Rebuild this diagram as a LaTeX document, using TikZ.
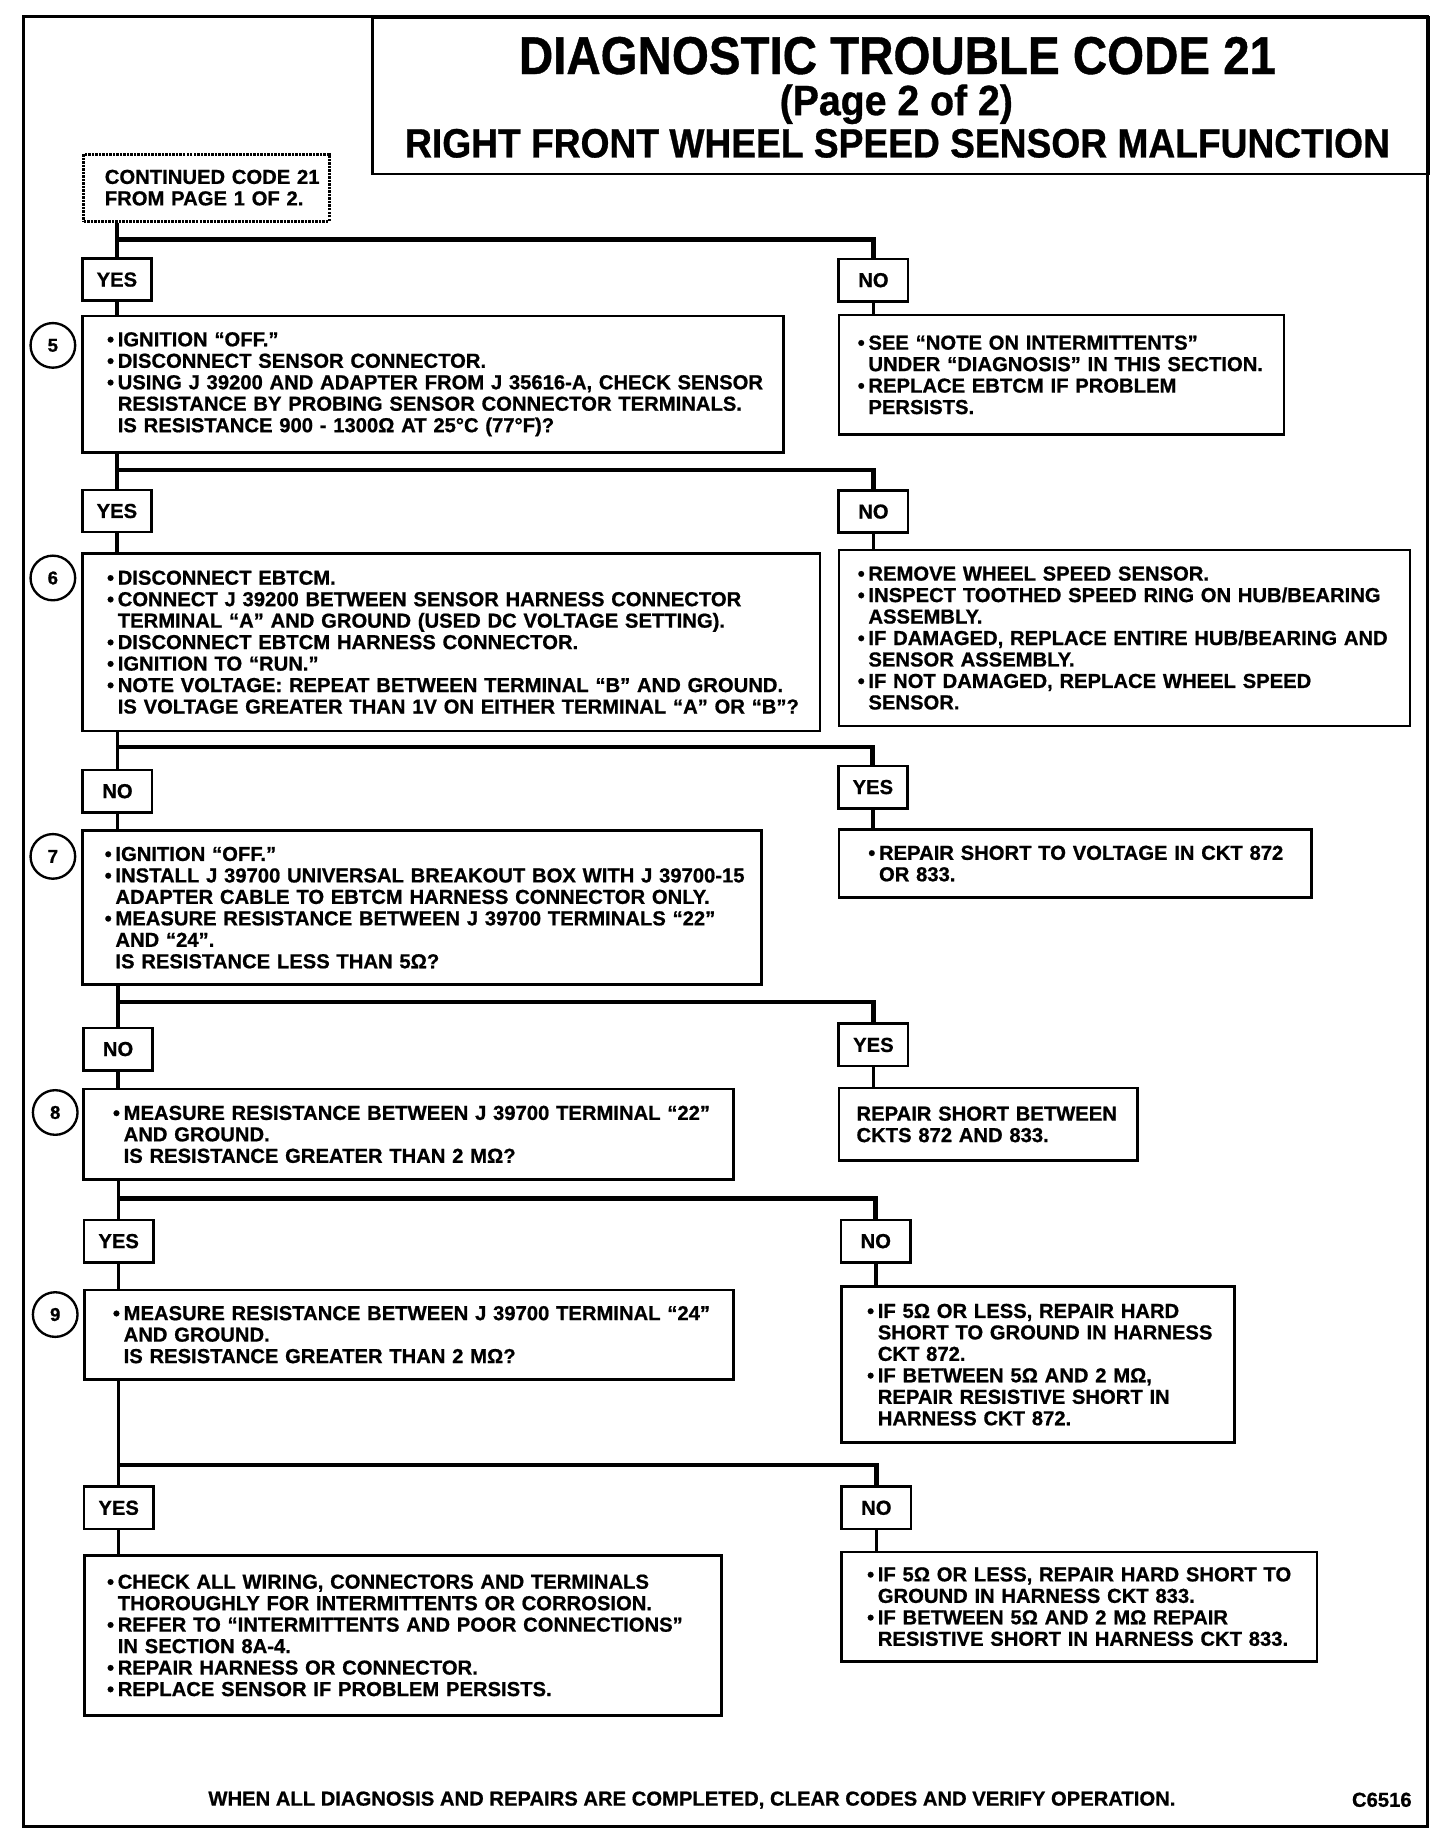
\documentclass[tikz,border=0pt]{standalone}
\usepackage{fontspec}
\setmainfont{Liberation Sans}[BoldFeatures={FakeBold=0.8}]
\usetikzlibrary{positioning}
\newcommand\bodyfont{\fontsize{9.8pt}{10.4pt}\selectfont\bfseries}
\newcommand\bul{\hangindent=5.2pt\hangafter=1\makebox[5.2pt][l]{\textbullet}}
\newcommand\nl{\newline}
\tikzset{
  stepbox/.style n args={3}{draw, line width=0.45mm, anchor=north west,
    inner xsep={#3*0.2mm}, inner ysep=0pt, text width={(#1-2*#3)*0.2mm},
    minimum height={#2*0.2mm}, align=left, font=\bodyfont,
    execute at begin node={\rightskip=-6mm plus 1fil\relax}},
  answer/.style={draw, line width=0.45mm, minimum width=11.8mm,
    minimum height=7.2mm, inner sep=0pt, font=\bodyfont},
  stepnum/.style={circle, draw, line width=0.4mm, minimum size=7.6mm,
    inner sep=0pt, font=\fontsize{9pt}{9pt}\selectfont\bfseries},
  heading/.style={anchor=base, font=\fontsize{#1}{#1}\selectfont\bfseries},
  trunk/.style={line width=0.6mm},
  bar/.style={line width=0.8mm}
}
\begin{document}
\begin{tikzpicture}[x=0.2mm,y=-0.2mm]
  \useasboundingbox (0,0) rectangle (1239,1568);
  % frame and heading
  \draw[line width=0.45mm] (20,14) rectangle (1215,1555);
  \node[draw, line width=0.45mm, anchor=north west, minimum width=179.8mm,
    minimum height=26.6mm, inner sep=0pt] (titlebox) at (316,14) {};
  \node[heading=23pt] (title) at (764,63) {\scalebox{1}[1.12]{DIAGNOSTIC TROUBLE CODE 21}};
  \node[heading=19pt] (page) at (763,98) {\scalebox{1}[1.08]{(Page 2 of 2)}};
  \node[heading=18pt] (subtitle) at (764,134) {\scalebox{1}[1.1]{RIGHT FRONT WHEEL SPEED SENSOR MALFUNCTION}};

  \node[stepbox={209}{57}{18}, line width=0.5mm, dash pattern=on 1.2pt off 0.5pt] (cont) at (70,130)
    {CONTINUED CODE 21\nl FROM PAGE 1 OF 2.};

  % step 5
  \node[answer] (yes1) at (99.5,238) {YES};
  \node[answer] (no1) at (743.5,238.5) {NO};
  \node[stepnum] (c5) at (45,294) {5};
  \node[stepbox={597}{116}{21}] (q5) at (69,268)
    {\bul IGNITION “OFF.”\par
     \bul DISCONNECT SENSOR CONNECTOR.\par
     \bul USING J 39200 AND ADAPTER FROM J 35616-A, CHECK SENSOR\nl
     RESISTANCE BY PROBING SENSOR CONNECTOR TERMINALS.\nl
     IS RESISTANCE 900 - 1300Ω AT 25°C (77°F)?\par};
  \node[stepbox={379}{102}{16}] (a5) at (713,267)
    {\bul SEE “NOTE ON INTERMITTENTS”\nl
     UNDER “DIAGNOSIS” IN THIS SECTION.\par
     \bul REPLACE EBTCM IF PROBLEM\nl
     PERSISTS.\par};

  % step 6
  \node[answer] (yes2) at (99.5,435) {YES};
  \node[answer] (no2) at (743.5,435.5) {NO};
  \node[stepnum] (c6) at (45,492) {6};
  \node[stepbox={628}{151}{21}] (q6) at (69,470)
    {\bul DISCONNECT EBTCM.\par
     \bul CONNECT J 39200 BETWEEN SENSOR HARNESS CONNECTOR\nl
     TERMINAL “A” AND GROUND (USED DC VOLTAGE SETTING).\par
     \bul DISCONNECT EBTCM HARNESS CONNECTOR.\par
     \bul IGNITION TO “RUN.”\par
     \bul NOTE VOLTAGE: REPEAT BETWEEN TERMINAL “B” AND GROUND.\nl
     IS VOLTAGE GREATER THAN 1V ON EITHER TERMINAL “A” OR “B”?\par};
  \node[stepbox={486}{150}{16}] (a6) at (713,467)
    {\bul REMOVE WHEEL SPEED SENSOR.\par
     \bul INSPECT TOOTHED SPEED RING ON HUB/BEARING\nl
     ASSEMBLY.\par
     \bul IF DAMAGED, REPLACE ENTIRE HUB/BEARING AND\nl
     SENSOR ASSEMBLY.\par
     \bul IF NOT DAMAGED, REPLACE WHEEL SPEED\nl
     SENSOR.\par};

  % step 7
  \node[answer] (no3) at (100,673.5) {NO};
  \node[answer] (yes3) at (743,670) {YES};
  \node[stepnum] (c7) at (45,729) {7};
  \node[stepbox={578}{131}{19}] (q7) at (69,706)
    {\bul IGNITION “OFF.”\par
     \bul INSTALL J 39700 UNIVERSAL BREAKOUT BOX WITH J 39700-15\nl
     ADAPTER CABLE TO EBTCM HARNESS CONNECTOR ONLY.\par
     \bul MEASURE RESISTANCE BETWEEN J 39700 TERMINALS “22”\nl
     AND “24”.\nl
     IS RESISTANCE LESS THAN 5Ω?\par};
  \node[stepbox={402}{58}{25}] (a7) at (713,705)
    {\bul REPAIR SHORT TO VOLTAGE IN CKT 872\nl
     OR 833.\par};

  % step 8
  \node[answer] (no4) at (100.5,893) {NO};
  \node[answer] (yes4) at (743.5,889.5) {YES};
  \node[stepnum] (c8) at (47,947) {8};
  \node[stepbox={553}{77}{25}] (q8) at (70,926)
    {\bul MEASURE RESISTANCE BETWEEN J 39700 TERMINAL “22”\nl
     AND GROUND.\nl
     IS RESISTANCE GREATER THAN 2 MΩ?\par};
  \node[stepbox={254}{62}{15}] (a8) at (713,925)
    {REPAIR SHORT BETWEEN\nl
     CKTS 872 AND 833.};

  % step 9
  \node[answer] (yes5) at (101,1056.5) {YES};
  \node[answer] (no5) at (745.5,1056.5) {NO};
  \node[stepnum] (c9) at (47,1119) {9};
  \node[stepbox={552}{76}{24}] (q9) at (71,1097)
    {\bul MEASURE RESISTANCE BETWEEN J 39700 TERMINAL “24”\nl
     AND GROUND.\nl
     IS RESISTANCE GREATER THAN 2 MΩ?\par};
  \node[stepbox={335}{133}{22}] (a9) at (715,1094)
    {\bul IF 5Ω OR LESS, REPAIR HARD\nl
     SHORT TO GROUND IN HARNESS\nl
     CKT 872.\par
     \bul IF BETWEEN 5Ω AND 2 MΩ,\nl
     REPAIR RESISTIVE SHORT IN\nl
     HARNESS CKT 872.\par};

  % last answers
  \node[answer] (yes6) at (101,1283.5) {YES};
  \node[answer] (no6) at (746,1283.5) {NO};
  \node[stepbox={542}{136}{19}] (r9) at (71,1323)
    {\bul CHECK ALL WIRING, CONNECTORS AND TERMINALS\nl
     THOROUGHLY FOR INTERMITTENTS OR CORROSION.\par
     \bul REFER TO “INTERMITTENTS AND POOR CONNECTIONS”\nl
     IN SECTION 8A-4.\par
     \bul REPAIR HARNESS OR CONNECTOR.\par
     \bul REPLACE SENSOR IF PROBLEM PERSISTS.\par};
  \node[stepbox={405}{93}{22}] (n9) at (715,1320)
    {\bul IF 5Ω OR LESS, REPAIR HARD SHORT TO\nl
     GROUND IN HARNESS CKT 833.\par
     \bul IF BETWEEN 5Ω AND 2 MΩ REPAIR\nl
     RESISTIVE SHORT IN HARNESS CKT 833.\par};

  \node[anchor=base, font=\bodyfont] (note) at (589,1537)
    {WHEN ALL DIAGNOSIS AND REPAIRS ARE COMPLETED, CLEAR CODES AND VERIFY OPERATION.};
  \node[anchor=base east, font=\bodyfont, inner sep=0pt] (figno) at (1202,1538) {C6516};

  % forks
  \coordinate (f1) at (99.5,204);
  \coordinate (f2) at (99.5,400);
  \coordinate (f3) at (100,636);
  \coordinate (f4) at (100.5,853);
  \coordinate (f5) at (101,1020);
  \coordinate (f6) at (101,1247);
  \draw[bar] (f1) -| (no1.north);
  \draw[bar] (f2) -| (no2.north);
  \draw[bar] (f3) -| (yes3.north);
  \draw[bar] (f4) -| (yes4.north);
  \draw[bar] (f5) -| (no5.north);
  \draw[bar] (f6) -| (no6.north);

  % trunk
  \draw[trunk] (yes1.north |- cont.south) -- (yes1.north);
  \draw[trunk] (yes1.south) -- (yes1.south |- q5.north);
  \draw[trunk] (no1.south) -- (no1.south |- a5.north);
  \draw[trunk] (yes2.north |- q5.south) -- (yes2.north);
  \draw[trunk] (yes2.south) -- (yes2.south |- q6.north);
  \draw[trunk] (no2.south) -- (no2.south |- a6.north);
  \draw[trunk] (no3.north |- q6.south) -- (no3.north);
  \draw[trunk] (no3.south) -- (no3.south |- q7.north);
  \draw[trunk] (yes3.south) -- (yes3.south |- a7.north);
  \draw[trunk] (no4.north |- q7.south) -- (no4.north);
  \draw[trunk] (no4.south) -- (no4.south |- q8.north);
  \draw[trunk] (yes4.south) -- (yes4.south |- a8.north);
  \draw[trunk] (yes5.north |- q8.south) -- (yes5.north);
  \draw[trunk] (yes5.south) -- (yes5.south |- q9.north);
  \draw[trunk] (no5.south) -- (no5.south |- a9.north);
  \draw[trunk] (yes6.north |- q9.south) -- (yes6.north);
  \draw[trunk] (yes6.south) -- (yes6.south |- r9.north);
  \draw[trunk] (no6.south) -- (no6.south |- n9.north);
\end{tikzpicture}
\end{document}
